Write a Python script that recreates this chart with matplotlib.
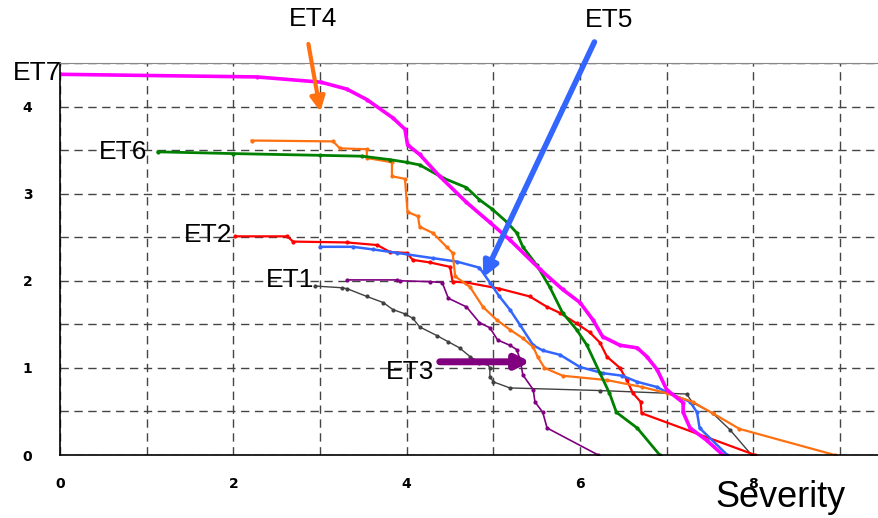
import matplotlib
matplotlib.use('Agg')
import matplotlib.pyplot as plt
import matplotlib.ticker as ticker

# survival-style curves per event type: severity vs value
et1_x = [2.94, 3.25, 3.31, 3.54, 3.73, 3.84, 3.98, 4.07, 4.15, 4.35, 4.48, 4.61, 4.73, 4.84, 4.92, 4.96, 4.96, 5.0, 5.19, 6.23, 7.23, 7.30, 7.53, 7.73, 7.98]
et1_y = [1.94, 1.92, 1.91, 1.82, 1.75, 1.67, 1.62, 1.57, 1.47, 1.37, 1.30, 1.23, 1.13, 1.06, 1.06, 1.0, 0.90, 0.84, 0.77, 0.74, 0.70, 0.60, 0.48, 0.29, 0.0]

et2_x = [2.02, 2.62, 2.69, 3.31, 3.66, 3.81, 4.0, 4.07, 4.27, 4.50, 4.53, 4.69, 5.07, 5.42, 5.62, 5.77, 5.96, 6.11, 6.23, 6.31, 6.46, 6.54, 6.61, 6.70, 6.71, 8.02]
et2_y = [2.51, 2.51, 2.45, 2.44, 2.41, 2.33, 2.32, 2.24, 2.21, 2.16, 1.99, 1.98, 1.91, 1.82, 1.70, 1.63, 1.51, 1.41, 1.29, 1.13, 1.0, 0.86, 0.71, 0.61, 0.48, 0.0]

et3_x = [3.31, 3.89, 3.92, 4.27, 4.41, 4.48, 4.69, 4.84, 4.96, 5.05, 5.19, 5.27, 5.31, 5.34, 5.46, 5.48, 5.57, 5.62, 6.21]
et3_y = [2.01, 2.01, 2.0, 1.99, 1.98, 1.80, 1.70, 1.52, 1.46, 1.32, 1.26, 1.21, 1.09, 0.92, 0.75, 0.61, 0.49, 0.31, 0.0]

et4_x = [2.21, 3.15, 3.23, 3.54, 3.54, 3.83, 3.83, 3.98, 4.01, 4.13, 4.15, 4.30, 4.46, 4.53, 4.56, 4.73, 4.88, 5.04, 5.19, 5.34, 5.46, 5.51, 5.59, 5.80, 6.31, 6.72, 7.0, 7.30, 7.53, 7.84, 8.94]
et4_y = [3.61, 3.60, 3.52, 3.51, 3.41, 3.36, 3.20, 3.17, 2.79, 2.74, 2.62, 2.55, 2.39, 2.32, 2.05, 1.93, 1.70, 1.55, 1.44, 1.34, 1.24, 1.13, 1.0, 0.91, 0.86, 0.78, 0.71, 0.61, 0.48, 0.30, 0.0]

et5_x = [3.0, 3.38, 3.61, 3.89, 4.30, 4.58, 4.84, 4.96, 5.07, 5.19, 5.31, 5.46, 5.57, 5.77, 6.0, 6.26, 6.49, 6.66, 6.89, 7.0, 7.27, 7.35, 7.38, 7.70]
et5_y = [2.39, 2.39, 2.36, 2.32, 2.26, 2.22, 2.15, 1.98, 1.82, 1.67, 1.49, 1.26, 1.20, 1.15, 1.01, 0.94, 0.91, 0.84, 0.78, 0.72, 0.61, 0.49, 0.31, 0.0]

et6_x = [1.13, 2.0, 3.0, 3.49, 3.81, 4.0, 4.15, 4.42, 4.69, 4.84, 4.99, 5.16, 5.27, 5.34, 5.50, 5.65, 5.80, 5.96, 6.08, 6.23, 6.34, 6.42, 6.66, 6.92]
et6_y = [3.48, 3.46, 3.44, 3.43, 3.39, 3.36, 3.33, 3.18, 3.07, 2.93, 2.82, 2.67, 2.55, 2.39, 2.18, 1.93, 1.63, 1.44, 1.26, 0.94, 0.71, 0.49, 0.31, 0.0]

et7_x = [0.0, 2.27, 3.01, 3.31, 3.54, 3.84, 3.98, 4.01, 4.15, 4.38, 4.69, 4.96, 5.19, 5.54, 5.80, 6.0, 6.15, 6.26, 6.46, 6.66, 6.77, 6.89, 7.0, 7.19, 7.19, 7.27, 7.46, 7.65]
et7_y = [4.37, 4.34, 4.28, 4.20, 4.08, 3.87, 3.74, 3.56, 3.45, 3.20, 2.90, 2.67, 2.47, 2.13, 1.90, 1.75, 1.55, 1.36, 1.26, 1.23, 1.13, 0.98, 0.75, 0.60, 0.49, 0.31, 0.17, 0.0]

fig = plt.figure(figsize=(8.79, 5.18), dpi=100)
ax = fig.add_axes([0.0683, 0.1216, 0.9317, 0.7568])

#%% curves
ax.plot(et1_x, et1_y, color='#404040', lw=1.0, marker='o', ms=2)
ax.plot(et3_x, et3_y, color='#800080', lw=1.2, marker='o', ms=2)
ax.plot(et2_x, et2_y, color='#ff0000', lw=1.6, marker='o', ms=2)
ax.plot(et5_x, et5_y, color='#3366ff', lw=1.8, marker='o', ms=2)
ax.plot(et4_x, et4_y, color='#ff7010', lw=1.6, marker='o', ms=2)
ax.plot(et6_x, et6_y, color='#008000', lw=2.0, marker='o', ms=2)
ax.plot(et7_x, et7_y, color='#ff00ff', lw=2.6, marker='o', ms=2)

ax.set_xlim(0, 9.45)
ax.set_ylim(0, 4.5)

#Grid and ticks
ax.xaxis.set_major_locator(ticker.MultipleLocator(2))
ax.xaxis.set_minor_locator(ticker.MultipleLocator(1))
ax.yaxis.set_major_locator(ticker.MultipleLocator(1))
ax.yaxis.set_minor_locator(ticker.MultipleLocator(0.5))
ax.grid(True, which='both', linestyle=(0, (6, 4)), color='#444444', lw=1)
ax.tick_params(which='both', length=0)
ax.tick_params(axis='y', pad=20)
ax.tick_params(axis='x', pad=16)
for lab in ax.get_xticklabels() + ax.get_yticklabels():
    lab.set_fontsize(10)
    lab.set_fontweight('bold')

ax.spines['right'].set_visible(False)
ax.spines['top'].set_color('#888888')
ax.spines['left'].set_color('black')
ax.spines['bottom'].set_color('black')
ax.spines['left'].set_linewidth(1.2)
ax.spines['bottom'].set_linewidth(1.2)

#%% labels
lbl = dict(fontsize=19, family='Liberation Sans', va='center', annotation_clip=False)
ax.annotate('ET7', xy=(-0.54, 4.38), ha='left', **lbl)
ax.annotate('ET4', xy=(2.92, 5.0), ha='center', **lbl)
ax.annotate('ET5', xy=(6.33, 4.99), ha='center', **lbl)
ax.annotate('ET6', xy=(0.73, 3.48), ha='center', **lbl)
ax.annotate('ET2', xy=(1.71, 2.53), ha='center', **lbl)
ax.annotate('ET1', xy=(2.65, 2.01), ha='center', **lbl)
ax.annotate('ET3', xy=(4.04, 0.95), ha='center', **lbl)

# arrows pointing at curves
ax.annotate('', xy=(3.01, 3.91), xytext=(2.86, 4.75), annotation_clip=False,
            arrowprops=dict(arrowstyle='-|>', color='#ff7010', lw=3, mutation_scale=22))
ax.annotate('', xy=(4.87, 2.01), xytext=(6.18, 4.77), annotation_clip=False,
            arrowprops=dict(arrowstyle='-|>', color='#3366ff', lw=4, mutation_scale=22))
ax.annotate('', xy=(5.46, 1.07), xytext=(4.35, 1.07), annotation_clip=False,
            arrowprops=dict(arrowstyle='-|>', color='#800080', lw=5, mutation_scale=20))

fig.text(0.888, 0.039, 'Severity', fontsize=26, family='Liberation Sans', ha='center', va='center')

fig.savefig('out.png', dpi=100)
